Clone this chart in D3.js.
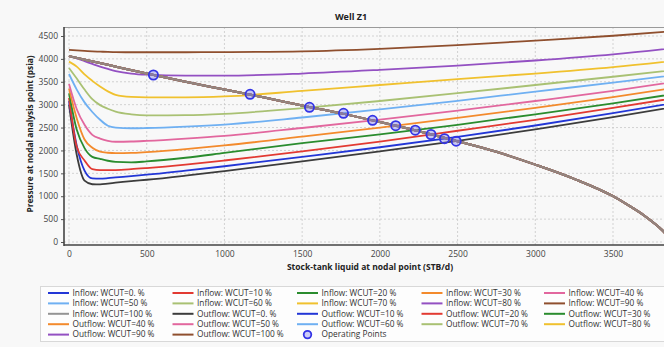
<!DOCTYPE html>
<html>
<head>
<meta charset="utf-8">
<script src="https://cdn.jsdelivr.net/npm/d3@7"></script>
<style>
  html, body { margin: 0; padding: 0; background: #f8f8f8; }
  svg { display: block; }
  text { font-family: "Open Sans", "Noto Sans", sans-serif; }
</style>
</head>
<body>
<svg id="chart" width="664" height="347"></svg>
<script>
// Water-cut cases
const wcutLabels = ["0.", "10", "20", "30", "40", "50", "60", "70", "80", "90", "100"];

// Line colours, in series order
const palette = ["#2236d6", "#e23a32", "#2a8c2e", "#f38a2c", "#e2679e", "#6fb0f2",
                 "#a9c173", "#f0c12e", "#9350c2", "#8f4f2e", "#949494", "#3c3c3c"];

// Inflow (IPR) curve, liquid rate STB/d vs pressure psia
const iprRates    = [0, 250, 500, 750, 1000, 1250, 1500, 1750, 2000, 2250, 2500, 2750, 3000, 3250, 3500, 3600, 3700, 3750, 3800, 3850, 3875];
const iprPressure = [4060, 3870, 3680, 3500, 3330, 3160, 2980, 2810, 2620, 2420, 2200, 1970, 1690, 1380, 1000, 800, 580, 450, 310, 130, 0];

// Outflow (VLP) curves share one rate grid
const vlpRates   = [0, 50, 100, 150, 200, 250, 300, 400, 500, 750, 1000, 1500, 2000, 2500, 3000, 3500, 4000];
const outflow0   = [3000, 1900, 1340, 1262, 1258, 1275, 1295, 1330, 1360, 1450, 1550, 1760, 1980, 2207, 2460, 2730, 3010];
const outflow10  = [3080, 2100, 1560, 1390, 1385, 1395, 1410, 1440, 1470, 1560, 1655, 1860, 2070, 2295, 2545, 2815, 3100];
const outflow20  = [3150, 2080, 1780, 1590, 1570, 1570, 1572, 1590, 1615, 1690, 1780, 1980, 2195, 2430, 2670, 2930, 3200];
const outflow30  = [3250, 2450, 2050, 1860, 1815, 1775, 1750, 1740, 1760, 1840, 1945, 2160, 2350, 2560, 2790, 3030, 3290];
const outflow40  = [3350, 2700, 2240, 2060, 1975, 1950, 1940, 1945, 1965, 2030, 2110, 2300, 2500, 2710, 2930, 3165, 3420];
const outflow50  = [3450, 2900, 2560, 2340, 2260, 2210, 2190, 2195, 2210, 2260, 2320, 2490, 2675, 2870, 3080, 3300, 3550];
const outflow60  = [3670, 3330, 3050, 2840, 2670, 2540, 2500, 2485, 2490, 2520, 2565, 2720, 2895, 3085, 3285, 3480, 3690];
const outflow70  = [3800, 3570, 3330, 3120, 2990, 2910, 2850, 2790, 2765, 2770, 2800, 2925, 3080, 3250, 3430, 3610, 3800];
const outflow80  = [3940, 3830, 3660, 3520, 3395, 3290, 3215, 3170, 3160, 3160, 3180, 3300, 3430, 3560, 3680, 3820, 4000];
const outflow90  = [4060, 4010, 3950, 3890, 3830, 3780, 3735, 3680, 3655, 3635, 3635, 3680, 3760, 3855, 3965, 4100, 4280];
const outflow100 = [4195, 4185, 4175, 4165, 4158, 4152, 4148, 4145, 4145, 4145, 4148, 4165, 4220, 4300, 4400, 4505, 4635];

// Operating points (intersection of inflow and outflow), WCUT 90 % down to 0 %
const opRates    = [543, 1165, 1547, 1766, 1953, 2102, 2228, 2329, 2416, 2491];
const opPressure = [3648, 3226, 2942, 2811, 2658, 2540, 2442, 2348, 2256, 2202];

// Axis ticks
const xTicks = [0, 500, 1000, 1500, 2000, 2500, 3000, 3500];
const yTicks = [0, 500, 1000, 1500, 2000, 2500, 3000, 3500, 4000, 4500];

const outflowPressures = [outflow0, outflow10, outflow20, outflow30, outflow40, outflow50,
                          outflow60, outflow70, outflow80, outflow90, outflow100];

const svg = d3.select("#chart");

// Plot frame
const frame = { left: 64, top: 27, bottom: 245, right: 720 };

const x = d3.scaleLinear().domain([0, 3500]).range([69, 613]);
const y = d3.scaleLinear().domain([0, 4500]).range([242, 36]);

// Title
svg.append("text").attr("x", 351).attr("y", 20).attr("text-anchor", "middle")
  .attr("font-size", 9).attr("font-weight", "bold").attr("fill", "#222").text("Well Z1");

// Clip
svg.append("clipPath").attr("id", "plotClip").append("rect")
  .attr("x", frame.left).attr("y", frame.top)
  .attr("width", frame.right - frame.left).attr("height", frame.bottom - frame.top);

// Grid
const grid = svg.append("g");
grid.selectAll("line.gx").data(xTicks).join("line")
  .attr("x1", d => x(d)).attr("x2", d => x(d)).attr("y1", frame.top).attr("y2", frame.bottom)
  .attr("stroke", "#c8c8c8").attr("stroke-width", 0.8).attr("stroke-dasharray", "2,2");
grid.selectAll("line.gy").data(yTicks).join("line")
  .attr("x1", frame.left).attr("x2", 664).attr("y1", d => y(d)).attr("y2", d => y(d))
  .attr("stroke", "#c8c8c8").attr("stroke-width", 0.8).attr("stroke-dasharray", "2,2");

// Top border
svg.append("line").attr("x1", frame.left).attr("x2", 664)
  .attr("y1", frame.top + 0.5).attr("y2", frame.top + 0.5)
  .attr("stroke", "#9a9a9a").attr("stroke-width", 1);

const plot = svg.append("g").attr("clip-path", "url(#plotClip)");

const line = d3.line().x(d => x(d[0])).y(d => y(d[1])).curve(d3.curveMonotoneX);

// Outflow curves: WCUT 0 % uses the last palette colour, the rest shift by one
const outflowColors = [palette[11]].concat(palette.slice(0, 10));
outflowPressures.forEach((ps, i) => {
  plot.append("path")
    .datum(vlpRates.map((q, j) => [q, ps[j]]))
    .attr("fill", "none").attr("stroke", outflowColors[i]).attr("stroke-width", 1.8)
    .attr("d", line);
});

// Inflow curves (identical for every water cut)
const iprData = iprRates.map((q, j) => [q, iprPressure[j]]);
wcutLabels.forEach((w, i) => {
  plot.append("path")
    .datum(iprData)
    .attr("fill", "none").attr("stroke", palette[i]).attr("stroke-width", 2)
    .attr("stroke-opacity", i === 10 ? 0.8 : 1)
    .attr("d", line);
});

// Operating points
plot.selectAll("circle.op").data(opRates.map((q, i) => [q, opPressure[i]])).join("circle")
  .attr("cx", d => x(d[0])).attr("cy", d => y(d[1])).attr("r", 4.6)
  .attr("fill", "rgba(110,110,235,0.35)").attr("stroke", "#3434e6").attr("stroke-width", 1.8);

// Axes
const xAxis = svg.append("g").attr("transform", `translate(0,${frame.bottom})`)
  .call(d3.axisBottom(x).tickValues(xTicks).tickSize(0).tickPadding(6).tickFormat(d3.format("d")));
xAxis.select(".domain").remove();
xAxis.selectAll("text").attr("font-size", 8.5).attr("fill", "#444")
  .attr("font-family", "'Open Sans', 'Noto Sans', sans-serif");

const yAxis = svg.append("g").attr("transform", `translate(${frame.left},0)`)
  .call(d3.axisLeft(y).tickValues(yTicks).tickSize(3).tickPadding(3).tickFormat(d3.format("d")));
yAxis.select(".domain").remove();
yAxis.selectAll(".tick line").attr("stroke", "#555");
yAxis.selectAll("text").attr("font-size", 8.5).attr("fill", "#444")
  .attr("font-family", "'Open Sans', 'Noto Sans', sans-serif");

svg.append("line").attr("x1", frame.left).attr("x2", frame.left)
  .attr("y1", frame.top).attr("y2", frame.bottom + 1)
  .attr("stroke", "#444").attr("stroke-width", 1.6);
svg.append("line").attr("x1", frame.left).attr("x2", 664)
  .attr("y1", frame.bottom).attr("y2", frame.bottom)
  .attr("stroke", "#444").attr("stroke-width", 1.6);

// Axis titles
svg.append("text").attr("x", 370).attr("y", 270).attr("text-anchor", "middle")
  .attr("font-size", 8.5).attr("font-weight", "bold").attr("fill", "#222")
  .text("Stock-tank liquid at nodal point (STB/d)");
svg.append("text").attr("transform", "translate(33,134) rotate(-90)").attr("text-anchor", "middle")
  .attr("font-size", 8.3).attr("font-weight", "bold").attr("fill", "#222")
  .text("Pressure at nodal analysis point (psia)");

// Legend
const legendItems = [];
wcutLabels.forEach((w, i) => legendItems.push({ label: `Inflow: WCUT=${w} %`, color: palette[i], type: "line" }));
wcutLabels.forEach((w, i) => legendItems.push({ label: `Outflow: WCUT=${w} %`, color: outflowColors[i], type: "line" }));
legendItems.push({ label: "Operating Points", type: "point" });

const lg = svg.append("g");
lg.append("rect").attr("x", 40.5).attr("y", 286.5).attr("width", 640).attr("height", 55)
  .attr("fill", "#fdfdfd").attr("stroke", "#d8d8d8");

const colX = [48, 172.5, 297, 421.5, 544];
const rowY0 = 293, rowDy = 10.4;
legendItems.forEach((d, k) => {
  const cx = colX[k % 5], cy = rowY0 + Math.floor(k / 5) * rowDy;
  if (d.type === "line") {
    lg.append("line").attr("x1", cx).attr("x2", cx + 21).attr("y1", cy).attr("y2", cy)
      .attr("stroke", d.color).attr("stroke-width", 2);
  } else {
    lg.append("circle").attr("cx", cx + 10.5).attr("cy", cy).attr("r", 3.8)
      .attr("fill", "rgba(110,110,235,0.35)").attr("stroke", "#3434e6").attr("stroke-width", 1.8);
  }
  lg.append("text").attr("x", cx + 24.5).attr("y", cy).attr("dy", "0.34em")
    .attr("font-size", 8.3).attr("fill", "#333").text(d.label);
});
</script>
</body>
</html>
